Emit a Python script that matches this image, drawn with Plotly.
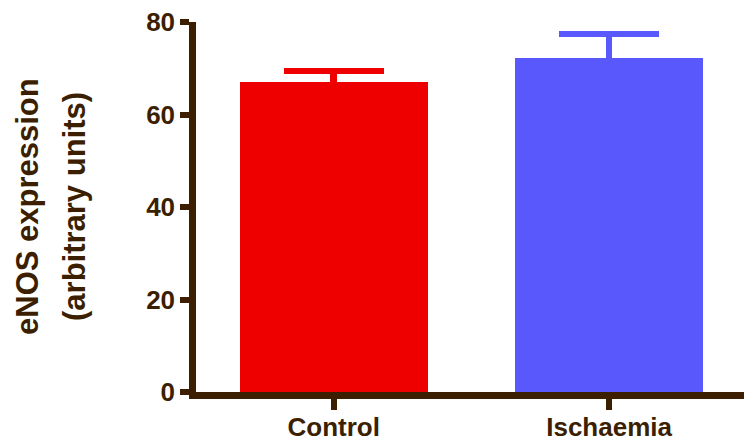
import plotly.graph_objects as go

categories = ["Control", "Ischaemia"]
values = [67.1, 72.2]
errors = [2.3, 5.2]
colors = ["#ee0000", "#5858fc"]
y_ticks = [0, 20, 40, 60, 80]
title_lines = ["eNOS expression", "(arbitrary units)"]

axis_color = "#3b1f00"
FONT = "Liberation Sans, Arial, sans-serif"

fig = go.Figure()
for c, v, e, col in zip(categories, values, errors, colors):
    fig.add_trace(go.Bar(
        x=[c], y=[v], marker=dict(color=col, line=dict(width=0)),
        width=0.684,
        error_y=dict(type="data", array=[e], symmetric=True,
                     color=col, thickness=6.5, width=50),
        showlegend=False,
    ))

fig.update_layout(
    width=744, height=445,
    margin=dict(l=196, r=0, t=22, b=53, autoexpand=False),
    plot_bgcolor="white", paper_bgcolor="white",
    bargap=0,
    font=dict(family=FONT, color=axis_color),
)
fig.update_xaxes(
    range=[-0.5, 1.49], showline=True, linecolor=axis_color, linewidth=6.5,
    ticks="outside", ticklen=11, tickwidth=6, tickcolor=axis_color,
    tickfont=dict(size=26, family=FONT, weight="bold"),
    ticklabelstandoff=-5,
    showgrid=False, zeroline=False,
)
fig.update_yaxes(
    range=[0, 80], tickvals=y_ticks, showline=True, linecolor=axis_color, linewidth=6.5,
    ticks="outside", ticklen=9, tickwidth=6, tickcolor=axis_color,
    tickfont=dict(size=26, family=FONT, weight="bold"),
    showgrid=False, zeroline=False,
)
for i, (txt, xpix) in enumerate(zip(title_lines, [27, 74])):
    fig.add_annotation(
        text=txt, xref="paper", yref="paper", x=0, y=0.5,
        xanchor="center", yanchor="middle", xshift=xpix - 196,
        textangle=-90, showarrow=False,
        font=dict(size=31, family=FONT, weight="bold", color=axis_color),
    )
fig.write_html("out.html", config={"displayModeBar": False},
               post_script="document.body.style.margin='0';")
